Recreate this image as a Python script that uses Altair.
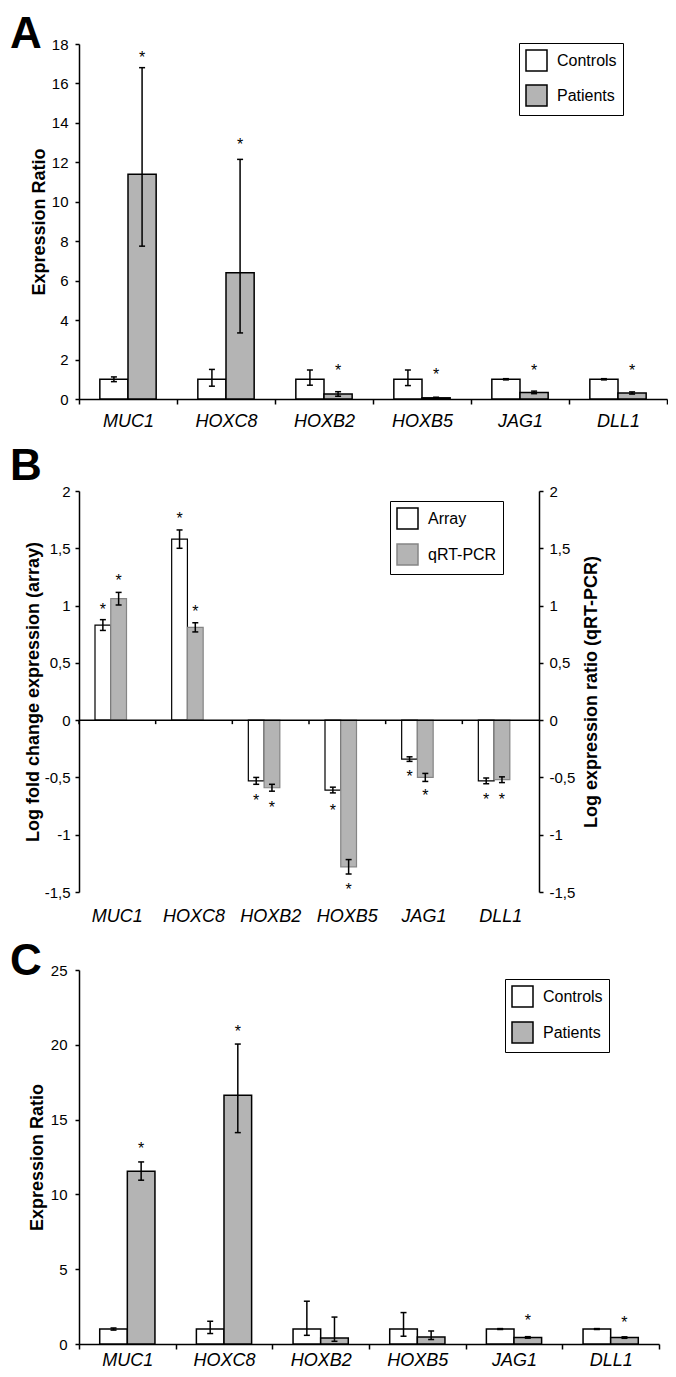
import altair as alt
import pandas as pd

FONT = "Liberation Sans"
GRAY = "#b4b4b4"

genes = ["MUC1", "HOXC8", "HOXB2", "HOXB5", "JAG1", "DLL1"]
letters = ["A", "B", "C"]

# ---------- Panel A ----------
a_groups = ["Controls", "Patients"]
a_ctrl = [1.0, 1.0, 1.0, 1.0, 1.0, 1.0]
a_ctrl_lo = [0.88, 0.65, 0.70, 0.68, 0.97, 0.97]
a_ctrl_hi = [1.12, 1.50, 1.47, 1.47, 1.03, 1.03]
a_ctrl_star = [None, None, None, None, None, None]
a_pat = [11.4, 6.4, 0.25, 0.06, 0.33, 0.30]
a_pat_lo = [7.75, 3.35, 0.14, 0.03, 0.27, 0.25]
a_pat_hi = [16.8, 12.15, 0.37, 0.09, 0.40, 0.36]
a_pat_star = [17.5, 13.1, 1.64, 1.42, 1.64, 1.60]
a_ticks = [0, 2, 4, 6, 8, 10, 12, 14, 16, 18]

# ---------- Panel B ----------
b_groups = ["Array", "qRT-PCR"]
b_arr = [0.83, 1.58, -0.53, -0.61, -0.34, -0.53]
b_arr_err = [0.047, 0.08, 0.03, 0.025, 0.02, 0.025]
b_arr_star = [1.00, 1.79, -0.67, -0.76, -0.46, -0.66]
b_q = [1.06, 0.81, -0.59, -1.28, -0.50, -0.52]
b_q_err = [0.055, 0.04, 0.03, 0.063, 0.035, 0.025]
b_q_star = [1.25, 0.98, -0.73, -1.45, -0.63, -0.66]
b_ticks = [-1.5, -1, -0.5, 0, 0.5, 1, 1.5, 2]

# ---------- Panel C ----------
c_groups = ["Controls", "Patients"]
c_ctrl = [1.0, 1.0, 1.0, 1.0, 1.0, 1.0]
c_ctrl_lo = [0.93, 0.70, 0.58, 0.52, 0.97, 0.97]
c_ctrl_hi = [1.07, 1.52, 2.86, 2.10, 1.03, 1.03]
c_ctrl_star = [None, None, None, None, None, None]
c_pat = [11.55, 16.63, 0.40, 0.47, 0.44, 0.43]
c_pat_lo = [10.95, 14.13, 0.18, 0.30, 0.39, 0.38]
c_pat_hi = [12.17, 20.05, 1.80, 0.87, 0.49, 0.48]
c_pat_star = [13.3, 21.1, None, None, 1.8, 1.7]
c_ticks = [0, 5, 10, 15, 20, 25]


def frame(groups, series):
    rows = []
    for grp, (val, lo, hi, star) in zip(groups, series):
        for i, g in enumerate(genes):
            rows.append({"gene": g, "group": grp, "val": val[i], "lo": lo[i],
                         "hi": hi[i], "star": star[i]})
    return pd.DataFrame(rows)


dfA = frame(a_groups, [(a_ctrl, a_ctrl_lo, a_ctrl_hi, a_ctrl_star),
                       (a_pat, a_pat_lo, a_pat_hi, a_pat_star)])
dfB = frame(b_groups, [
    (b_arr, [v - e for v, e in zip(b_arr, b_arr_err)],
     [v + e for v, e in zip(b_arr, b_arr_err)], b_arr_star),
    (b_q, [v - e for v, e in zip(b_q, b_q_err)],
     [v + e for v, e in zip(b_q, b_q_err)], b_q_star)])
dfC = frame(c_groups, [(c_ctrl, c_ctrl_lo, c_ctrl_hi, c_ctrl_star),
                       (c_pat, c_pat_lo, c_pat_hi, c_pat_star)])

COMMA = "replace(toString(datum.value), '.', ',')"


def y_axis(values, title, label_pad, title_pad, comma=False, orient="left"):
    kw = dict(values=values, title=title, orient=orient, grid=False,
              tickSize=4, tickWidth=1.5, domainWidth=1.5,
              labelFont=FONT, labelFontSize=15, labelColor="black",
              labelPadding=label_pad, titleFont=FONT, titleFontSize=18,
              titleFontWeight="bold", titleColor="black", titlePadding=title_pad)
    if comma:
        kw["labelExpr"] = COMMA
    if orient == "right":
        kw["titleAngle"] = 270
        kw["titleBaseline"] = "top"
    return alt.Axis(**kw)


def legend(x, y, row_pad):
    return alt.Legend(title=None, orient="none", legendX=x, legendY=y,
                      direction="vertical", symbolType="square", symbolSize=441,
                      symbolStrokeColor="black", symbolStrokeWidth=1.5,
                      labelFont=FONT, labelFontSize=16, labelColor="black",
                      labelOffset=9, rowPadding=row_pad, padding=6,
                      strokeColor="black", fillColor="white")


def layers(df, groups, x, xo, yscale, yax, fill, stroke=None, bar_sw=1.5):
    base = alt.Chart(df)
    enc = dict(x=x, xOffset=xo, y=alt.Y("val:Q", scale=yscale, axis=yax), fill=fill)
    if stroke is not None:
        enc["stroke"] = stroke
    bars = base.mark_bar(stroke="black", strokeWidth=bar_sw).encode(**enc)
    stems = base.mark_rule(color="black", strokeWidth=1.5).encode(
        x=x, xOffset=xo, y=alt.Y("lo:Q", scale=yscale, axis=yax), y2="hi:Q")
    cap_lo = base.mark_tick(color="black", thickness=1.5, size=6, opacity=1).encode(
        x=x, xOffset=xo, y=alt.Y("lo:Q", scale=yscale, axis=yax))
    cap_hi = base.mark_tick(color="black", thickness=1.5, size=6, opacity=1).encode(
        x=x, xOffset=xo, y=alt.Y("hi:Q", scale=yscale, axis=yax))
    stars = base.mark_text(text="*", font=FONT, fontSize=16, color="black",
                           baseline="alphabetic", dy=9).encode(
        x=x, xOffset=xo, y=alt.Y("star:Q", scale=yscale, axis=yax))
    return [bars, stems, cap_lo, cap_hi, stars]


def letter_layer(letter, y):
    return alt.Chart(pd.DataFrame({"letter": [letter]})).mark_text(
        align="left", baseline="alphabetic", font=FONT, fontSize=44,
        fontWeight="bold", color="black").encode(
        text="letter:N", x=alt.value(-69), y=alt.value(y))


def x_axis_bottom(label_pad):
    return alt.Axis(title=None, labelFont=FONT, labelFontSize=18,
                    labelFontStyle="italic", labelColor="black", labelAngle=0,
                    labelPadding=label_pad, tickBand="extent", tickSize=5,
                    tickWidth=1.5, tickColor="black", domainColor="black",
                    domainWidth=1.5, grid=False)


# ---------- Build A ----------
xA = alt.X("gene:N", sort=genes, scale=alt.Scale(paddingInner=0, paddingOuter=0),
           axis=x_axis_bottom(8))
xoA = alt.XOffset("group:N", sort=a_groups,
                  scale=alt.Scale(paddingInner=0, paddingOuter=0.74, align=0.5))
ysA = alt.Scale(domain=[0, 18], nice=False)
yaA = y_axis(a_ticks, "Expression Ratio", 7, 3)
fillA = alt.Fill("group:N", sort=a_groups,
                 scale=alt.Scale(domain=a_groups, range=["white", GRAY]),
                 legend=legend(440, -1, 8))
chartA = alt.layer(*layers(dfA, a_groups, xA, xoA, ysA, yaA, fillA),
                   letter_layer(letters[0], 4)).properties(width=588, height=355)

# ---------- Build B ----------
xaxB = alt.Axis(title=None, labelFont=FONT, labelFontSize=18, labelFontStyle="italic",
                labelColor="black", labelAngle=0, labelPadding=15, domain=False,
                ticks=False, tickSize=0, grid=False)
xB = alt.X("gene:N", sort=genes, scale=alt.Scale(paddingInner=0, paddingOuter=0),
           axis=xaxB)
xoB = alt.XOffset("group:N", sort=b_groups,
                  scale=alt.Scale(paddingInner=0, paddingOuter=0, range=[16, 47.5]))
ysB = alt.Scale(domain=[-1.5, 2], nice=False, zero=False)
yaB = y_axis(b_ticks, "Log fold change expression (array)", 5, 2, comma=True)
fillB = alt.Fill("group:N", sort=b_groups,
                 scale=alt.Scale(domain=b_groups, range=["white", GRAY]),
                 legend=legend(311, 10, 9))
strokeB = alt.Stroke("group:N", sort=b_groups,
                     scale=alt.Scale(domain=b_groups, range=["black", "#858585"]),
                     legend=None)
zero_line = alt.Chart(pd.DataFrame({"letter": [letters[1]]})).mark_rule(
    color="black", strokeWidth=1.5).encode(y=alt.YDatum(0, scale=ysB, axis=yaB))
zero_ticks = alt.Chart(pd.DataFrame({"gene": genes})).mark_rule(
    color="black", strokeWidth=1.5).encode(
    x=alt.X("gene:N", sort=genes, bandPosition=0,
            scale=alt.Scale(paddingInner=0, paddingOuter=0), axis=xaxB),
    y=alt.YDatum(0, scale=ysB, axis=yaB), y2=alt.Y2Datum(-0.035))
innerB = alt.layer(*layers(dfB, b_groups, xB, xoB, ysB, yaB, fillB, strokeB, 1.2),
                   zero_line, zero_ticks, letter_layer(letters[1], -11))
rightB = alt.Chart(dfB).mark_tick(opacity=0).encode(
    y=alt.Y("val:Q", scale=alt.Scale(domain=[-1.5, 2], nice=False, zero=False),
            axis=y_axis(b_ticks, "Log expression ratio (qRT-PCR)", 6, 8,
                        comma=True, orient="right")))
chartB = alt.layer(innerB, rightB).resolve_scale(y="independent").properties(
    width=460, height=401)

# ---------- Build C ----------
xC = alt.X("gene:N", sort=genes, scale=alt.Scale(paddingInner=0, paddingOuter=0),
           axis=x_axis_bottom(2))
xoC = alt.XOffset("group:N", sort=c_groups,
                  scale=alt.Scale(paddingInner=0, paddingOuter=0.75, align=0.5))
ysC = alt.Scale(domain=[0, 25], nice=False)
yaC = y_axis(c_ticks, "Expression Ratio", 8, 4)
fillC = alt.Fill("group:N", sort=c_groups,
                 scale=alt.Scale(domain=c_groups, range=["white", GRAY]),
                 legend=legend(426, 9, 9))
chartC = alt.layer(*layers(dfC, c_groups, xC, xoC, ysC, yaC, fillC),
                   letter_layer(letters[2], 5)).properties(width=580, height=374)

chart = alt.vconcat(chartA, chartB, chartC, spacing=15).resolve_scale(
    fill="independent", stroke="independent", xOffset="independent"
).properties(padding={"left": 2, "top": 5, "right": 0, "bottom": 0}).configure_view(
    stroke=None).configure_axis(
    labelFont=FONT, titleFont=FONT, labelColor="black", titleColor="black",
    domainColor="black", tickColor="black")

chart.save("out.html", embed_options={"renderer": "svg", "actions": False})
